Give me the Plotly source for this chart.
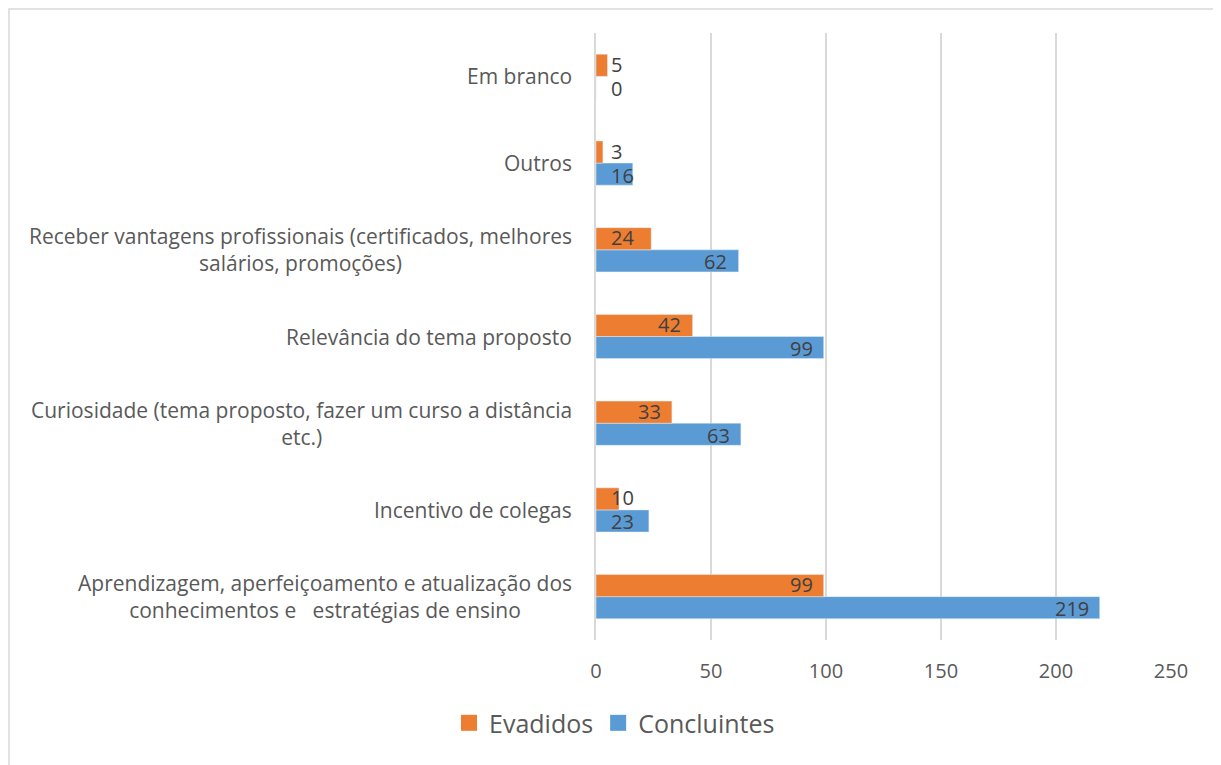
import plotly.graph_objects as go

categories = [
    "Aprendizagem, aperfeiçoamento e atualização dos<br>conhecimentos e\u00a0\u00a0\u00a0estratégias de ensino",
    "Incentivo de colegas",
    "Curiosidade (tema proposto, fazer um curso a distância<br>etc.)",
    "Relevância do tema proposto",
    "Receber vantagens profissionais (certificados, melhores<br>salários, promoções)",
    "Outros",
    "Em branco",
]
evadidos = [99, 10, 33, 42, 24, 3, 5]
concluintes = [219, 23, 63, 99, 62, 16, 0]

ORANGE = "#ED7D31"
BLUE = "#5B9BD5"
FONT = "Open Sans"

fig = go.Figure()

# Concluintes first so it sits below Evadidos in each group
fig.add_trace(go.Bar(y=categories, x=concluintes, name="Concluintes", orientation="h",
                     marker=dict(color=BLUE), showlegend=False))
fig.add_trace(go.Bar(y=categories, x=evadidos, name="Evadidos", orientation="h",
                     marker=dict(color=ORANGE), showlegend=False))

# legend entries with bigger square swatches
for name, col in [("Evadidos", ORANGE), ("Concluintes", BLUE)]:
    fig.add_trace(go.Scatter(x=[None], y=[None], mode="markers", name=name,
                             marker=dict(symbol="square", size=17, color=col)))

# value labels: inside the bar end; short bars get the label just right of the axis
for vals, shift in [(evadidos, 12), (concluintes, -12)]:
    for c, v in zip(categories, vals):
        if v < 25:
            x, anchor = 5.5, "left"
        else:
            x, anchor = v - 4, "right"
        fig.add_annotation(x=x, y=c, text=str(v), xanchor=anchor,
                           yshift=shift, showarrow=False,
                           font=dict(size=20, color="#404040", family=FONT))

# category labels, centered multi-line like the original
for c in categories:
    fig.add_annotation(x=0, xref="paper", y=c, yref="y", text=c,
                       xanchor="right", align="center", showarrow=False,
                       xshift=-22, font=dict(size=21, color="#595959", family=FONT))

# page body has an 8px margin, so the figure is shifted by it
OFF = 8
L, R, T, B = 596 - OFF, 50, 33 - OFF, 125
W, H = 1221 - OFF, 765 - OFF
pw, ph = W - L - R, H - T - B
fig.add_shape(type="rect", xref="paper", yref="paper",
              x0=(1 - L) / pw, x1=(1211 - L) / pw,
              y0=(ph + T - 790) / ph, y1=(ph + T - 1) / ph,
              line=dict(color="#D9D9D9", width=1.5), fillcolor="rgba(0,0,0,0)", layer="below")

fig.update_layout(
    width=W, height=H,
    margin=dict(l=L, r=R, t=T, b=B),
    barmode="group", bargap=0.49, bargroupgap=0,
    plot_bgcolor="white", paper_bgcolor="white",
    font=dict(family=FONT, color="#595959", size=20),
    xaxis=dict(range=[0, 250], dtick=50, showgrid=True, gridcolor="#D9D9D9",
               gridwidth=1.5, zeroline=False, showline=False,
               tickfont=dict(size=20), ticks="", ticklabelstandoff=17),
    yaxis=dict(showticklabels=False, showgrid=False, zeroline=False,
               showline=True, linecolor="#D9D9D9", linewidth=1.5),
    legend=dict(orientation="h", xref="container", x=0.5, xanchor="center",
                yref="container", y=0.025, yanchor="bottom",
                font=dict(size=25), itemwidth=30, traceorder="normal"),
)

fig.write_html("out.html")
